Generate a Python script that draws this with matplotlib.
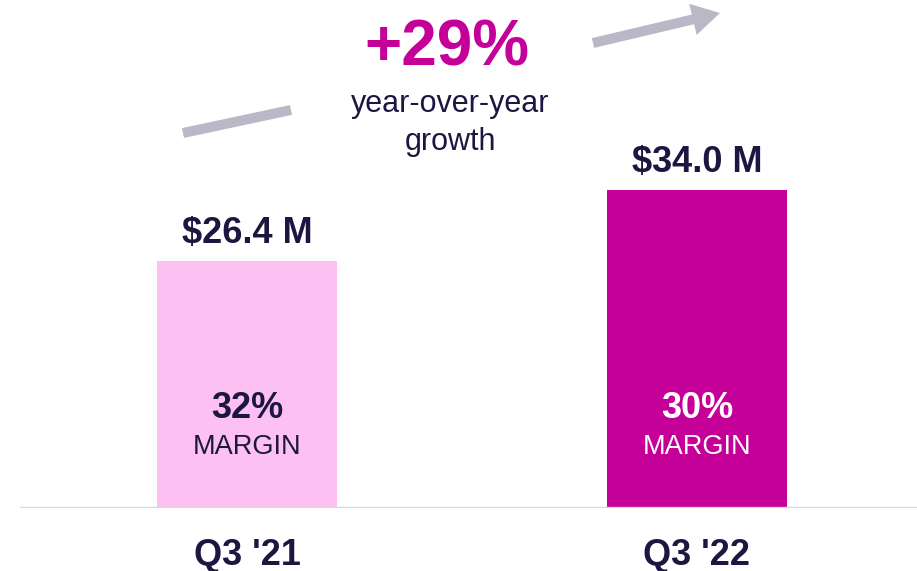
import matplotlib

matplotlib.use("Agg")
import matplotlib.pyplot as plt
from matplotlib.patches import FancyArrowPatch, ArrowStyle
from matplotlib.lines import Line2D

plt.rcParams["font.family"] = ["Liberation Sans", "DejaVu Sans"]

# data
quarters = ["Q3 '21", "Q3 '22"]
revenue = [26.4, 34.0]
value_labels = ["$26.4 M", "$34.0 M"]
margins = ["32%", "30%"]
growth = "+29%"

BAR_COLORS = ["#fdc0f2", "#c50099"]
MARGIN_TEXT = ["#1b1740", "#ffffff"]
DARK = "#1b1740"
MAGENTA = "#c50099"
GREY = "#b8b8c6"

W, H = 917, 571


def px(x, y):
    # pixel position (top-left origin) -> figure fraction
    return x / W, 1 - y / H


def draw():
    fig = plt.figure(figsize=(W / 100, H / 100), dpi=100)
    base = 63
    ax = fig.add_axes([0, base / H, 1, 1 - base / H])
    ax.axis("off")
    ax.set_xlim(-247 / 450, (W - 247) / 450)
    ax.set_ylim(0, (H - base) / 9.355)

    xs = list(range(len(quarters)))
    ax.bar(xs, revenue, width=0.4, color=BAR_COLORS, zorder=2)
    ax.axhline(0, xmin=21 / W, xmax=1, color="#d6d2f4", lw=2.4, zorder=3)

    for i, x in enumerate(xs):
        ax.annotate(value_labels[i], (x, revenue[i]), xytext=(0, 20),
                    textcoords="offset points", ha="center", va="center",
                    fontsize=26, fontweight="bold", color=DARK)
        ax.annotate(margins[i], (x, 0), xytext=(0, 72),
                    textcoords="offset points", ha="center", va="center",
                    fontsize=26, fontweight="bold", color=MARGIN_TEXT[i])
        ax.annotate("MARGIN", (x, 0), xytext=(0, 44),
                    textcoords="offset points", ha="center", va="center",
                    fontsize=19.5, color=MARGIN_TEXT[i])
        ax.annotate(quarters[i], (x, 0), xytext=(0, -34),
                    textcoords="offset points", ha="center", va="center",
                    fontsize=26, fontweight="bold", color=DARK)

    # growth callout
    fig.text(*px(447, 48), growth, ha="center", va="center", fontsize=46,
             fontweight="bold", color=MAGENTA)
    fig.text(*px(450, 123), "year-over-year\ngrowth", ha="center",
             va="center", fontsize=22, color=DARK, linespacing=1.35)

    x1, y1 = px(183, 133)
    x2, y2 = px(291, 110)
    fig.add_artist(Line2D([x1, x2], [y1, y2], transform=fig.transFigure,
                          color=GREY, lw=7.2, solid_capstyle="butt"))
    arr = FancyArrowPatch(
        px(593, 43), px(720, 13), transform=fig.transFigure,
        arrowstyle=ArrowStyle.Simple(head_length=1.0, head_width=1.15,
                                     tail_width=0.36),
        mutation_scale=20, color=GREY, lw=0, shrinkA=0, shrinkB=0,
    )
    fig.add_artist(arr)

    fig.savefig("out.png", dpi=100)


if __name__ == "__main__":
    draw()
